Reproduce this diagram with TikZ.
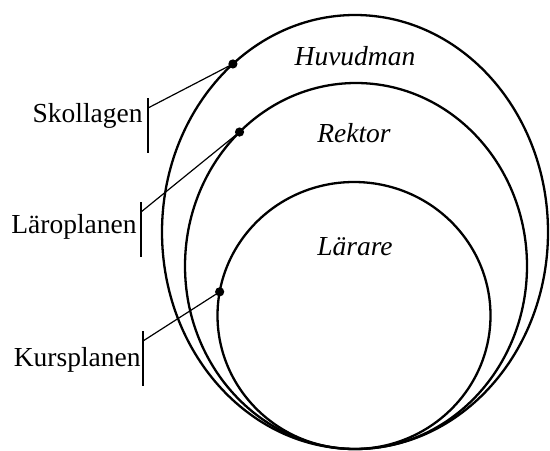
\documentclass[tikz,border=0pt]{standalone}
\usepackage{fontspec}
\setmainfont{Liberation Serif}
\usetikzlibrary{shapes.geometric}
\tikzset{
  ring/.style={draw,ellipse,line width=1.15pt,inner sep=0pt,outer sep=0pt},
  pin dot/.style={circle,fill,inner sep=0pt,minimum size=4.6pt},
  tag/.style={font=\fontsize{13.75}{16}\selectfont,anchor=base east,inner sep=0pt},
  area/.style={font=\fontsize{13.75}{16}\selectfont\itshape,anchor=base,inner sep=0pt},
  leader/.style={line width=0.6pt},
}

\begin{document}
\begin{tikzpicture}[x=0.5pt,y=-0.5pt]
  \useasboundingbox (0,0) rectangle (550,450);

  % Rings
  \node[ring,minimum width=193pt,minimum height=217pt] (huvudman) at (355,232) {};
  \node[ring,minimum width=171pt,minimum height=183pt] (rektor) at (356,266) {};
  \node[ring,minimum width=136.5pt,minimum height=133.5pt] (larare) at (354,315.5) {};

  % Ring names
  \node[area] (huv) at (355,65) {Huvudman};
  \node[area] (rek) at (354,142) {Rektor};
  \node[area] (lar) at (355,255) {Lärare};

  % Dots
  \node[pin dot] (skoldot) at (huvudman.126) {};
  \node[pin dot] (larodot) at (rektor.131) {};
  \node[pin dot] (kursdot) at (larare.170) {};

  % Tags
  \coordinate (skolbar) at (148,108);
  \coordinate (larobar) at (141,212);
  \coordinate (kursbar) at (143,341);
  \node[tag] (skol) at (143,122) {Skollagen};
  \node[tag] (laro) at (137,233) {Läroplanen};
  \node[tag] (kurs) at (141,366) {Kursplanen};

  % Bars
  \draw[leader] ([yshift=5pt]skolbar) -- ([yshift=-22.5pt]skolbar);
  \draw[leader] ([yshift=5pt]larobar) -- ([yshift=-22.5pt]larobar);
  \draw[leader] ([yshift=5pt]kursbar) -- ([yshift=-22.5pt]kursbar);

  % Leaders
  \draw[leader] (skoldot.center) -- (skolbar);
  \draw[leader] (larodot.center) -- (larobar);
  \draw[leader] (kursdot.center) -- (kursbar);
\end{tikzpicture}
\end{document}
